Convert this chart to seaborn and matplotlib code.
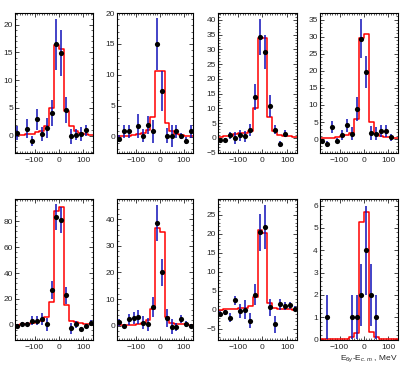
import numpy as np
import matplotlib
matplotlib.use("Agg")
import matplotlib.pyplot as plt
from matplotlib.ticker import MultipleLocator
import seaborn as sns

# --- Data ---
EDGES = [-180, -160, -140, -120, -100, -80, -60, -40, -20, 0, 20, 40, 60, 80, 100, 120, 140]
CENTERS = [-170, -150, -130, -110, -90, -70, -50, -30, -10, 10, 30, 50, 70, 90, 110, 130]

p1_x = [-170, -130, -110, -90, -70, -50, -30, -10, 10, 30, 50, 70, 90, 110]
p1_y = [0.5, 1.3, -1.0, 3.0, 0.3, 1.4, 4.1, 16.5, 14.9, 4.6, -0.1, 0.2, 0.3, 1.0]
p1_err = [1.2, 1.7, 0.9, 1.9, 1.3, 1.8, 2.4, 4.6, 4.1, 2.3, 1.4, 1.0, 1.2, 1.0]
p1_fit = [0.1, 0.2, 0.3, 0.4, 0.6, 0.8, 1.7, 5.0, 16.3, 15.6, 4.4, 1.7, 0.8, 0.5, 0.3, 0.1]

p2_x = [-170, -150, -130, -90, -70, -50, -30, -10, 10, 30, 50, 70, 90, 110, 130]
p2_y = [-0.3, 0.9, 0.9, 1.8, 0.2, 1.9, 0.9, 15.0, 7.4, 0.2, 0.2, 0.9, 0.2, -0.6, 0.9]
p2_err = [0.6, 1.0, 1.0, 1.9, 1.0, 1.5, 1.9, 4.2, 3.3, 1.2, 1.8, 1.0, 0.5, 0.6, 1.0]
p2_fit = [0.1, 0.1, 0.2, 0.3, 0.5, 0.7, 1.1, 3.2, 10.7, 10.7, 2.3, 0.9, 0.4, 0.3, 0.2, 0.1]

p3_x = [-170, -150, -130, -110, -90, -70, -50, -30, -10, 10, 30, 50, 70, 90]
p3_y = [-0.8, -0.6, 0.9, 0.0, 0.9, 0.5, 2.8, 13.8, 34.2, 29.1, 10.7, 2.8, -1.9, 1.5]
p3_err = [0.6, 0.5, 1.2, 2.0, 1.8, 1.8, 2.0, 4.5, 6.2, 5.8, 3.7, 1.5, 1.0, 1.2]
p3_fit = [0.3, 0.5, 0.8, 1.2, 1.6, 1.8, 2.2, 10.0, 33.7, 33.7, 7.2, 2.2, 1.0, 0.6, 0.5, 0.3]

p4_x = [-170, -150, -130, -110, -90, -70, -50, -30, -10, 10, 30, 50, 70, 90, 110]
p4_y = [-0.5, -1.5, 3.6, -0.5, 1.2, 4.0, 1.6, 8.8, 29.5, 19.7, 1.8, 1.6, 2.3, 2.3, 0.5]
p4_err = [0.6, 0.8, 1.8, 0.8, 1.5, 2.0, 2.0, 3.5, 5.8, 4.8, 2.0, 2.0, 1.8, 1.8, 1.0]
p4_fit = [0.2, 0.3, 0.4, 0.5, 1.0, 1.2, 1.8, 6.0, 29.8, 30.9, 5.0, 1.6, 0.9, 0.7, 0.5, 0.3]

p5_x = [-170, -150, -130, -110, -90, -70, -50, -30, -10, 10, 30, 50, 70, 90, 110, 130]
p5_y = [-0.8, 0.8, 0.8, 3.1, 3.3, 4.4, 0.5, 27.0, 82.8, 80.5, 22.9, -2.6, 0.5, -3.3, -0.8, 1.8]
p5_err = [1.5, 1.5, 1.5, 3.5, 3.5, 4.5, 5.0, 7.0, 10.0, 10.0, 6.5, 4.0, 2.5, 1.5, 1.5, 2.0]
p5_fit = [0.2, 0.5, 0.8, 1.2, 2.0, 3.0, 6.0, 17.5, 88.0, 90.5, 15.0, 3.4, 2.2, 1.5, 1.0, 0.5]

p6_x = [-170, -150, -130, -110, -90, -70, -50, -30, -10, 10, 30, 50, 70, 90, 110, 130]
p6_y = [1.3, 0.0, 2.4, 2.8, 3.3, 1.1, 0.5, 7.1, 38.7, 20.0, 2.8, -0.4, -0.5, 2.4, 0.6, 0.0]
p6_err = [1.3, 0.6, 2.0, 2.3, 2.5, 2.5, 2.5, 3.8, 6.8, 5.2, 3.5, 2.8, 1.5, 1.5, 1.0, 0.6]
p6_fit = [0.1, 0.2, 0.3, 0.4, 0.6, 1.0, 2.0, 6.2, 36.6, 35.1, 3.2, 1.0, 0.8, 0.7, 0.5, 0.3]

p7_x = [-170, -150, -130, -110, -90, -70, -50, -30, -10, 10, 30, 50, 70, 90, 110, 130]
p7_y = [-1.0, -0.6, -2.0, 2.5, -0.3, 0.0, -2.8, 4.0, 20.4, 21.9, 0.7, -3.8, 1.5, 1.0, 1.2, 0.3]
p7_err = [0.7, 0.6, 1.2, 1.2, 1.8, 2.5, 2.0, 2.8, 4.8, 5.8, 2.2, 2.2, 1.5, 1.0, 1.0, 0.7]
p7_fit = [0.1, 0.2, 0.2, 0.3, 0.4, 0.5, 1.0, 3.4, 21.0, 20.2, 1.8, 0.5, 0.3, 0.3, 0.2, 0.1]

p8_x = [-150, -50, -30, -10, 10, 30, 50]
p8_y = [1, 1, 1, 2, 4, 2, 1]
p8_err = [1.0, 1.0, 1.0, 1.4, 2.0, 1.4, 1.0]
p8_fit = [0, 0, 0, 0, 0, 0, 0.1, 0.3, 5.25, 5.7, 0.35, 0.1, 0, 0, 0, 0]

PANELS = [
    (p1_x, p1_y, p1_err, p1_fit, (-3.1, 22.1), 5, 1),
    (p2_x, p2_y, p2_err, p2_fit, (-2.6, 20.0), 5, 1),
    (p3_x, p3_y, p3_err, p3_fit, (-5.1, 42.3), 5, 1),
    (p4_x, p4_y, p4_err, p4_fit, (-4.1, 37.0), 5, 1),
    (p5_x, p5_y, p5_err, p5_fit, (-11.6, 97.0), 20, 4),
    (p6_x, p6_y, p6_err, p6_fit, (-5.4, 47.6), 10, 2),
    (p7_x, p7_y, p7_err, p7_fit, (-7.9, 29.2), 5, 1),
    (p8_x, p8_y, p8_err, p8_fit, (-0.03, 6.3), 1, 0.2),
]

# pixel boxes of the axes: (left, right) and (top, bottom)
COL_X = [(15, 93), (117, 193), (218, 297), (320, 398)]
ROW_Y = [(13, 153), (199, 340)]

W, H = 407, 372

sns.set_style("ticks")
plt.rcParams["font.family"] = ["Liberation Sans", "DejaVu Sans"]
plt.rcParams["mathtext.fontset"] = "custom"
plt.rcParams["mathtext.rm"] = "Liberation Sans"
plt.rcParams["mathtext.it"] = "Liberation Sans:italic"
plt.rcParams.update({
    "xtick.direction": "in", "ytick.direction": "in",
    "xtick.top": True, "ytick.right": True,
    "xtick.major.size": 2.8, "ytick.major.size": 2.8,
    "xtick.minor.size": 1.4, "ytick.minor.size": 1.4,
    "xtick.major.width": 0.6, "ytick.major.width": 0.6,
    "xtick.minor.width": 0.5, "ytick.minor.width": 0.5,
    "axes.linewidth": 0.8,
    "axes.edgecolor": "black",
    "xtick.labelsize": 6, "ytick.labelsize": 6,
    "xtick.major.pad": 3, "ytick.major.pad": 1.5,
})

fig = plt.figure(figsize=(W / 100, H / 100), dpi=100)

for i, (px, py, perr, fit, ylim, ymaj, ymin) in enumerate(PANELS):
    r, c = divmod(i, 4)
    x0, x1 = COL_X[c]
    y0, y1 = ROW_Y[r]
    ax = fig.add_axes([x0 / W, 1 - y1 / H, (x1 - x0) / W, (y1 - y0) / H])

    # fit curve as a step histogram, then data points with errors on top
    sns.histplot(x=CENTERS, weights=fit, bins=EDGES, element="step", fill=False,
                 color="red", linewidth=1.1, ax=ax, zorder=2)
    ax.errorbar(px, py, yerr=perr, fmt="none", ecolor="#1010b8", elinewidth=1.1,
                capsize=0, zorder=3)
    sns.scatterplot(x=px, y=py, color="black", s=14, linewidth=0, zorder=4, ax=ax)

    ax.set_xlim(-180, 140)
    ax.set_ylim(*ylim)
    ax.xaxis.set_major_locator(MultipleLocator(100))
    ax.xaxis.set_minor_locator(MultipleLocator(10))
    ax.yaxis.set_major_locator(MultipleLocator(ymaj))
    ax.yaxis.set_minor_locator(MultipleLocator(ymin))
    ax.set_xlabel("")
    ax.set_ylabel("")
    for sp in ax.spines.values():
        sp.set_visible(True)
    if i == 7:
        ax.set_xlabel(r"E$_{6\gamma}$-E$_{c.m.}$, MeV", fontsize=6, loc="right",
                      labelpad=1.5)

fig.savefig("out.png", dpi=100)
